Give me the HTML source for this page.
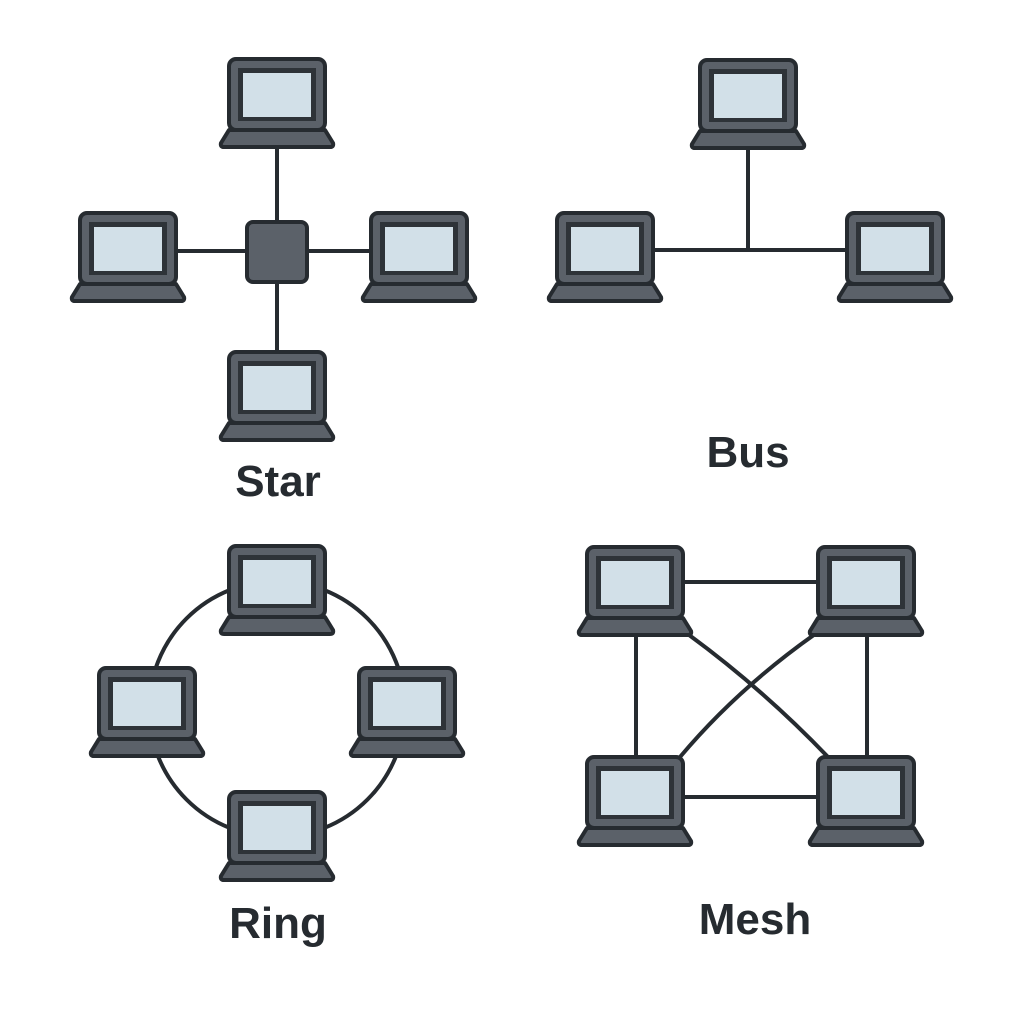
<!DOCTYPE html>
<html><head><style>
html,body{margin:0;padding:0;background:#fff;}
svg{display:block}
text{font-family:"Liberation Sans",sans-serif;font-weight:bold;fill:#262b30;font-size:44px;text-anchor:middle}
</style></head><body>
<svg width="1024" height="1024" viewBox="0 0 1024 1024">
<defs>
<g id="lap">
<path d="M-56,84 L-48,71 L48,71 L56,84 Q57,88 53,88 L-53,88 Q-57,88 -56,84 Z" fill="#5b6169" stroke="#262b30" stroke-width="4" stroke-linejoin="round"/>
<rect x="-48" y="0" width="96" height="71" rx="7" fill="#5b6169" stroke="#262b30" stroke-width="4"/>
<rect x="-39" y="9" width="78" height="53" fill="#2e3338"/>
<rect x="-34" y="14" width="68" height="44" fill="#d2e0e8"/>
</g>
</defs>
<g stroke="#262b30" stroke-width="4" fill="none">
<line x1="277" y1="140" x2="277" y2="360"/>
<line x1="170" y1="251" x2="380" y2="251"/>
<line x1="650" y1="250" x2="850" y2="250"/>
<line x1="748" y1="140" x2="748" y2="250"/>
<circle cx="277" cy="709" r="128"/>
<line x1="680" y1="582" x2="820" y2="582"/>
<line x1="680" y1="797" x2="820" y2="797"/>
<line x1="636" y1="630" x2="636" y2="760"/>
<line x1="867" y1="630" x2="867" y2="760"/>
<path d="M685,632 Q762,688 828,757"/>
<path d="M818,632 Q738,688 680,757"/>
</g>
<rect x="247" y="222" width="60" height="60" rx="6" fill="#5b6169" stroke="#262b30" stroke-width="4"/>
<use href="#lap" x="277" y="59"/>
<use href="#lap" x="128" y="213"/>
<use href="#lap" x="419" y="213"/>
<use href="#lap" x="277" y="352"/>
<use href="#lap" x="748" y="60"/>
<use href="#lap" x="605" y="213"/>
<use href="#lap" x="895" y="213"/>
<use href="#lap" x="277" y="546"/>
<use href="#lap" x="147" y="668"/>
<use href="#lap" x="407" y="668"/>
<use href="#lap" x="277" y="792"/>
<use href="#lap" x="635" y="547"/>
<use href="#lap" x="866" y="547"/>
<use href="#lap" x="635" y="757"/>
<use href="#lap" x="866" y="757"/>
<text x="278" y="496">Star</text>
<text x="748" y="467">Bus</text>
<text x="278" y="938">Ring</text>
<text x="755" y="934">Mesh</text>
</svg>
</body></html>
